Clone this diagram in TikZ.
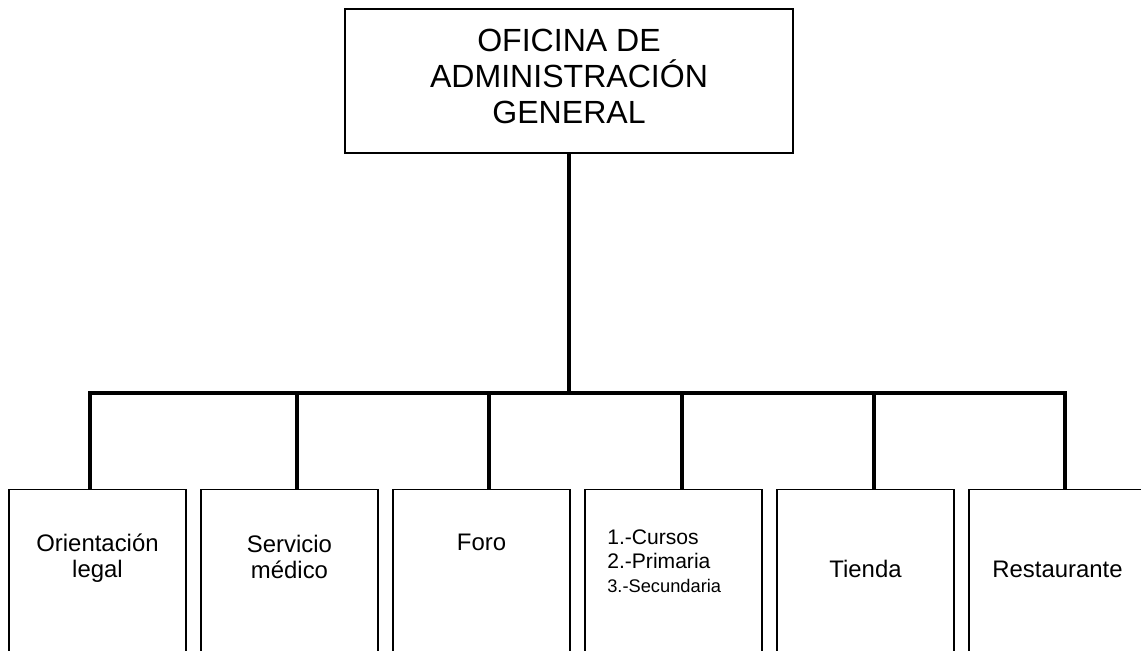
\documentclass[tikz,border=0pt]{standalone}
\usepackage{fontspec}
\setmainfont{Liberation Sans}
\usetikzlibrary{positioning,calc}

\begin{document}
\begin{tikzpicture}[x=0.025cm, y=-0.025cm,
    jefe/.style={draw, line width=1.3pt, minimum width=11.2cm, minimum height=3.6cm},
    area/.style={draw, line width=0.8pt, minimum width=4.425cm, minimum height=5cm, anchor=north},
    texto/.style={align=center, inner sep=0pt, font=\fontsize{17}{18.5}\selectfont},
    rama/.style={line width=3pt}]
    \useasboundingbox (0,0) rectangle (1141,650);
    \clip (0,0) rectangle (1141,650);

    % Oficina principal
    \node[jefe] (ofi) at (569,81) {};
    \node[align=center, inner sep=0pt, font=\fontsize{22.8}{25.6}\selectfont] (ofitxt)
        at ($(ofi.center)+(0,-5)$) {OFICINA DE\\ADMINISTRACIÓN\\GENERAL};

    % Areas de abajo
    \foreach \i/\d in {1/-7.5, 2/7.5, 3/7.5, 4/8.5, 5/8.5, 6/7.5} {
        \node[area] (b\i) at ({97.5+192*(\i-1)},489) {};
        \coordinate (c\i) at ($(b\i.north)+(\d,0)$);
    }

    % Textos de las areas
    \foreach \i/\ty/\t in {1/558/{Orientación\\legal}, 2/557/{Servicio\\médico}, 3/542/Foro,
        5/569/Tienda, 6/569/Restaurante} {
        \node[texto] (t\i) at ($(b\i.north)+(0,\ty-489)$) {\t};
    }
    \node[anchor=west, align=left, inner sep=0pt, font=\fontsize{15}{17}\selectfont] (t4) at (607,561)
        {1.-Cursos\\2.-Primaria\\\fontsize{13}{16.4}\selectfont 3.-Secundaria};

    % Lineas de union
    \coordinate (barra) at (569,393);
    \draw[rama] (ofi.south) -- (barra);
    \draw[rama] (c1) |- (barra) -| (c6);
    \foreach \i in {2,...,5} {
        \draw[rama] (c\i) -- (c\i |- barra);
    }
\end{tikzpicture}
\end{document}
